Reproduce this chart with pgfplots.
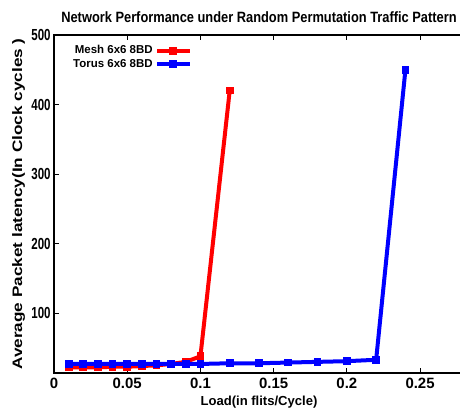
\documentclass[border=0pt]{standalone}
\usepackage{pgfplots}
\pgfplotsset{compat=1.18}
\usepackage{fontspec}
\setmainfont{Liberation Sans}
\newfontfamily\ytfont{Liberation Sans}[FakeStretch=0.72]
\newfontfamily\ylfont{Liberation Sans}[FakeStretch=1.25]
\newfontfamily\ttlfont{Liberation Sans}[FakeStretch=0.86]
\begin{document}
\begin{tikzpicture}[x=0.75pt,y=0.75pt]
\path[use as bounding box] (-54,-43) rectangle (406,373);
\begin{axis}[
  scale only axis,
  width=307.5pt, height=253.5pt,
  at={(0,0)}, anchor=south west,
  xmin=0, xmax=0.28, ymin=14, ymax=500,
  xtick={0,0.05,0.1,0.15,0.2,0.25},
  xticklabels={0,0.05,0.1,0.15,0.2,0.25},
  ytick={100,200,300,400,500},
  tick align=inside,
  xtick pos=both, ytick pos=left,
  major tick length=4pt,
  every tick/.style={black, line width=0.6pt},
  axis line style={line width=2pt},
  /pgf/number format/assume math mode=true,
  xticklabel style={font=\bfseries\fontsize{11.2}{13}\selectfont},
  yticklabel style={font=\ytfont\bfseries\fontsize{12}{13}\selectfont, xshift=1pt},
  scaled x ticks=false,
  title={Network Performance under Random Permutation Traffic Pattern},
  title style={font=\ttlfont\bfseries\fontsize{11.2}{13}\selectfont, yshift=0pt},
  xlabel={Load(in flits/Cycle)},
  ylabel={Average Packet latency(In Clock cycles )},
  xlabel style={font=\bfseries\fontsize{9.8}{11}\selectfont, yshift=1pt},
  ylabel style={font=\ylfont\bfseries\fontsize{10.3}{11}\selectfont, yshift=-2pt},
  legend style={draw=none, fill=none, at={(0.03,0.985)}, anchor=north west,
    font=\bfseries\fontsize{8.6}{10}\selectfont, legend cell align=right,
    row sep=-1.5pt},
  legend plot pos=right,
  legend image code/.code={\draw[mark repeat=2,mark phase=2] plot coordinates {(0cm,0cm) (0.42cm,0cm) (0.85cm,0cm)};},
  every axis plot/.append style={line width=3pt, mark=square*, mark size=2.5pt, mark options={solid, line width=0.8pt}},
]
\addplot[red] coordinates {
(0.01,22) (0.02,22) (0.03,22) (0.04,23) (0.05,23) (0.06,24) (0.07,25) (0.08,27) (0.09,30) (0.1,38) (0.12,420)
};
\addlegendentry{Mesh 6x6 8BD}
\addplot[blue] coordinates {
(0.01,27) (0.02,27) (0.03,27) (0.04,27) (0.05,27) (0.06,27) (0.07,27) (0.08,27) (0.09,27) (0.1,27) (0.12,28) (0.14,28) (0.16,29) (0.18,30) (0.2,31) (0.22,33) (0.24,450)
};
\addlegendentry{Torus 6x6 8BD}
\end{axis}
\end{tikzpicture}
\end{document}
